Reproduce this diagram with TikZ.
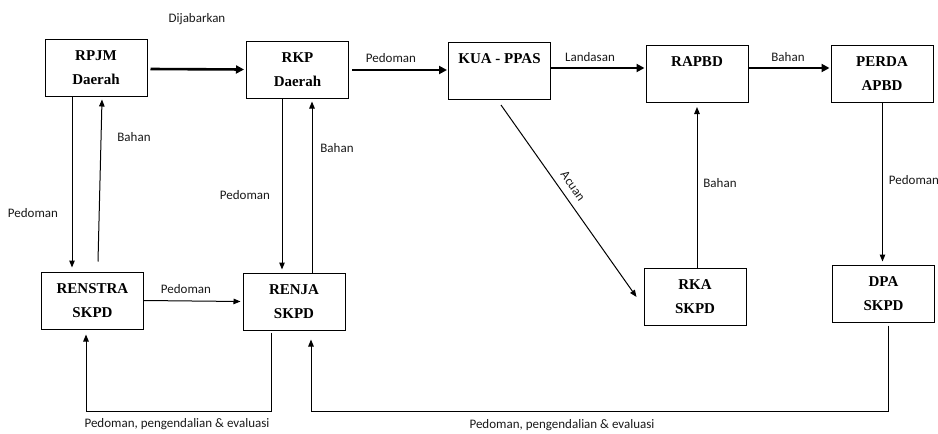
\documentclass[tikz,border=0pt]{standalone}
\usepackage{fontspec}
\setmainfont{Liberation Serif}
\newfontfamily\labfont{Carlito}
\usetikzlibrary{arrows.meta}
\tikzset{
  box/.style={draw=black, line width=1pt, minimum width=102pt, minimum height=57pt,
    inner sep=0pt, align=center, font=\fontsize{15}{24}\selectfont\bfseries},
  thick arrow/.style={line width=2.6pt, -{Triangle[length=8pt,width=8pt]}},
  thin arrow/.style={line width=1pt, -{Triangle[length=7pt,width=5.5pt]}},
  lab/.style={font=\labfont\fontsize{13}{15}\selectfont, text=black!90, inner sep=0pt}
}
\begin{document}
\begin{tikzpicture}[x=1pt,y=-1pt]
\useasboundingbox (0,0) rectangle (938,434);
% boxes
\node[box] (rpjm)    at (96,67.5)   {RPJM\\Daerah};
\node[box] (rkp)     at (297.5,69.5){RKP\\Daerah};
\node[box] (kua)     at (499.5,71)  {KUA - PPAS\\~};
\node[box] (rapbd)   at (697,74)    {RAPBD\\~};
\node[box] (perda)   at (882,74)    {PERDA\\APBD};
\node[box] (renstra) at (92.5,300.5){RENSTRA\\SKPD};
\node[box] (renja)   at (294,301.5) {RENJA\\SKPD};
\node[box] (rka)     at (695,297)   {RKA\\SKPD};
\node[box] (dpa)     at (883.5,293.5){DPA\\SKPD};

% thick horizontal arrows
\draw[thick arrow] ([xshift=3pt,yshift=-1.5pt]rpjm.east) -- ([xshift=-2pt]rkp.west);
\draw[thick arrow] ([xshift=3pt,yshift=-0.5pt]rkp.east) -- ([xshift=-1pt,yshift=1pt]kua.west);
\draw[thick arrow] ([yshift=3pt]kua.east) -- ([xshift=-1pt,yshift=6pt]rapbd.west);
\draw[thick arrow] ([yshift=6pt]rapbd.east) -- ([xshift=-1pt,yshift=6pt]perda.west);

% verticals left
\draw[thin arrow] ([xshift=-24pt]rpjm.south) -- ([xshift=-20.5pt,yshift=4pt]renstra.north);
\draw[thin arrow] ([xshift=5.5pt,yshift=10pt]renstra.north) -- ([xshift=6pt,yshift=-3pt]rpjm.south);
\draw[thin arrow] ([xshift=-15.5pt]rkp.south) -- ([xshift=-12pt,yshift=3pt]renja.north);
\draw[thin arrow] ([xshift=18pt]renja.north) -- ([xshift=14.5pt,yshift=-3pt]rkp.south);
\draw[thin arrow] (renstra.east) -- ([xshift=-2pt,yshift=-1pt]renstra.east -| renja.west);

% right side
\draw[thin arrow] ([xshift=1.5pt,yshift=-5pt]kua.south) -- ([xshift=-7pt]rka.west);
\draw[thin arrow] ([xshift=2pt]rka.north) -- ([xshift=0pt,yshift=-4pt]rapbd.south);
\draw[thin arrow] ([xshift=0.5pt]perda.south) -- ([xshift=-1pt,yshift=3pt]dpa.north);

% feedback loops
\coordinate (l1) at (271,411);
\coordinate (l2) at (86,411);
\draw[thin arrow] ([xshift=-23pt,yshift=-2pt]renja.south) -- (l1) -- (l2) -- ([xshift=-6.5pt,yshift=-5pt]renstra.south);
\coordinate (m1) at (888,411);
\coordinate (m2) at (311,411);
\draw[thin arrow] ([xshift=4.5pt,yshift=-3pt]dpa.south) -- (m1) -- (m2) -- ([xshift=17pt,yshift=-9pt]renja.south);

% labels
\node[lab] (t1)  at (197,19)  {Dijabarkan};
\node[lab] (t2)  at (391,58)  {Pedoman};
\node[lab] (t3)  at (590,57)  {Landasan};
\node[lab] (t4)  at (788,57)  {Bahan};
\node[lab] (t5)  at (33,213)  {Pedoman};
\node[lab] (t6)  at (134,137) {Bahan};
\node[lab] (t7)  at (245,195) {Pedoman};
\node[lab] (t8)  at (337,148) {Bahan};
\node[lab] (t9)  at (186,289) {Pedoman};
\node[lab,rotate=-55] (t10) at (573,186) {Acuan};
\node[lab] (t11) at (720,183) {Bahan};
\node[lab] (t12) at (914,180) {Pedoman};
\node[lab] (t13) at (177,424) {Pedoman, pengendalian \& evaluasi};
\node[lab] (t14) at (562,425) {Pedoman, pengendalian \& evaluasi};
\end{tikzpicture}
\end{document}
